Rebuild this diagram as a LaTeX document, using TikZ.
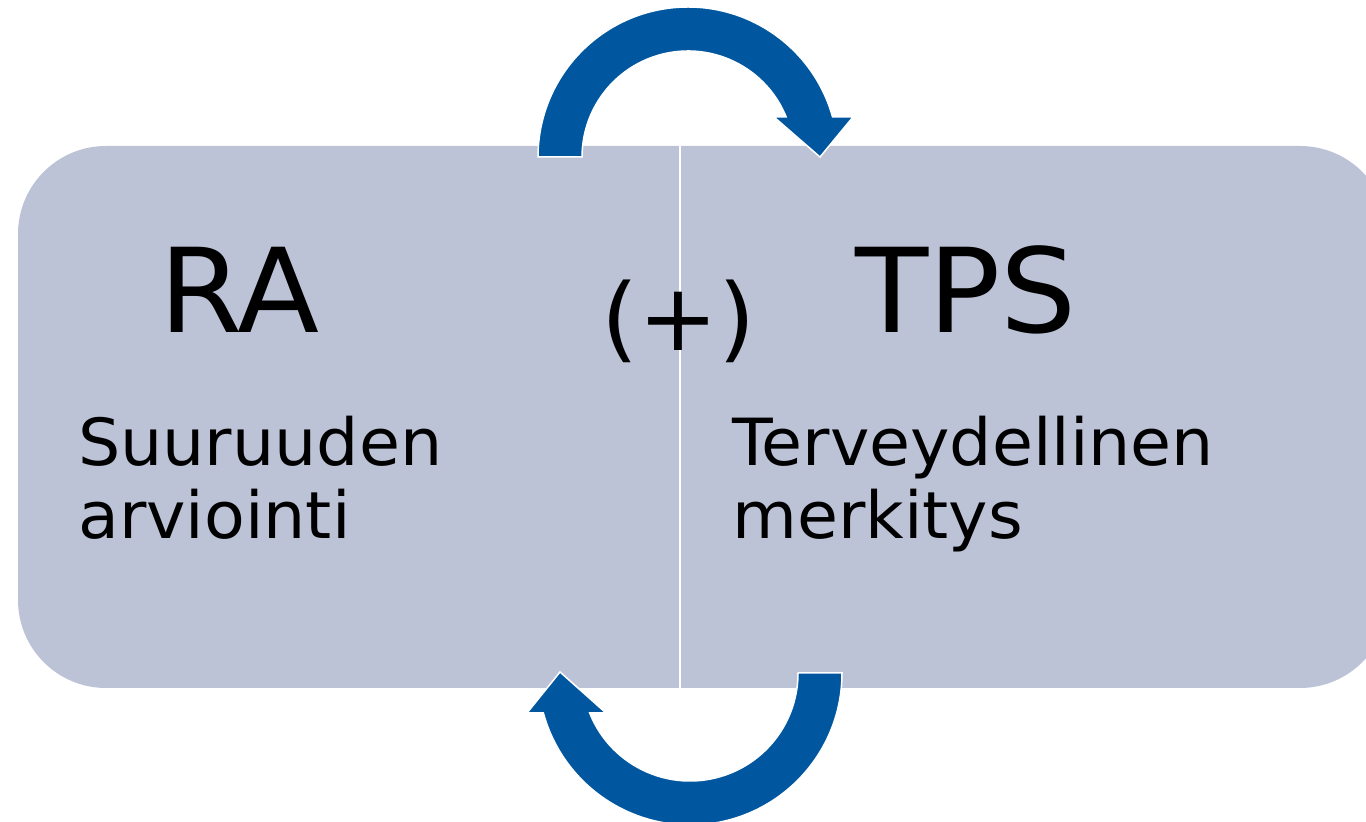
\documentclass[tikz,border=0pt]{standalone}
\usepackage{fontspec}
\setmainfont{DejaVu Sans}[FakeStretch=1.025]
\definecolor{boxfill}{HTML}{BDC3D7}
\definecolor{arrowblue}{HTML}{0057A0}
\begin{document}
\begin{tikzpicture}[x=1pt,y=1pt,
  bigtext/.style={font=\fontsize{117}{140}\selectfont, anchor=base west, inner sep=0pt},
  plustext/.style={font=\fontsize{93}{110}\selectfont, anchor=base west, inner sep=0pt},
  smalltext/.style={font=\fontsize{65}{73}\selectfont, anchor=base west, inner sep=0pt},
  arrowshape/.style={fill=arrowblue, draw=white, line width=1.5pt, line join=miter}]
\useasboundingbox (0,0) rectangle (1366,822);
\clip (0,0) rectangle (1366,822);
% boxes
\fill[boxfill, rounded corners=88pt] (18,134) rectangle (1388,676);
\coordinate (divtop) at (680,676);
\coordinate (divbot) at (680,134);
\draw[white, line width=2pt] (divtop) -- (divbot);
% top arrow
\path[arrowshape] (538,665) arc[start angle=180, end angle=15.47, radius=150pt]
  -- (853,705) -- (820,665) -- (774,705) -- (786.2,705)
  arc[start angle=22.17, end angle=180, radius=106pt] -- cycle;
% bottom arrow
\path[arrowshape] (842,149) arc[start angle=0, end angle=-164.74, radius=152pt]
  -- (527,109) -- (560,150) -- (606,109) -- (589.7,109)
  arc[start angle=-158.26, end angle=0, radius=108pt] -- cycle;
% texts
\node[bigtext] (ra) at (159,489) {RA};
\node[bigtext] (tps) at (855,489) {TPS};
\node[plustext] (plus) at (601,471) {(+)};
\node[smalltext] (l1) at (78,356) {Suuruuden};
\node[smalltext] (l2) at (78,283) {arviointi};
\node[smalltext] (r1) at (732,356) {Terveydellinen};
\node[smalltext] (r2) at (732,283) {merkitys};
\end{tikzpicture}
\end{document}
